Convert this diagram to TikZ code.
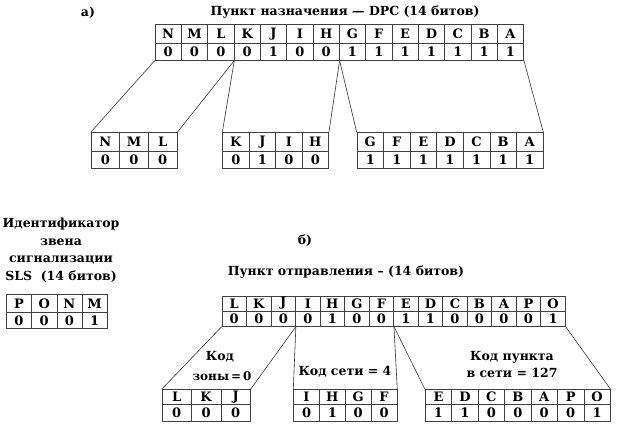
\documentclass[tikz,border=0pt]{standalone}
\usepackage{fontspec}
\setmainfont{DejaVu Serif}
\begin{document}
\begin{tikzpicture}[x=1pt,y=-1pt,
  cell/.style={draw=black!75,line width=0.6pt,inner sep=0pt,anchor=north west,font=\fontsize{13}{13}\selectfont\bfseries},
  conn/.style={draw=black!80,line width=0.6pt},
  lbl/.style={font=\fontsize{12.5}{15}\selectfont\bfseries,inner sep=0pt,align=center}]
\useasboundingbox (0,0) rectangle (620,428);
\newcommand\bittab[7]{%
  \foreach \l/\b [count=\i] in {#7} {
    \node[cell,minimum width=#4pt,minimum height=#5pt] (#1-t\i) at ({#2+(\i-1)*#4},#3) {\l};
    \node[cell,minimum width=#4pt,minimum height=#6pt] (#1-b\i) at ({#2+(\i-1)*#4},#3+#5) {\b};
  }}
% a)
\node[lbl] (la) at (88,13) {а)};
\node[lbl] (ta) at (345,12) {Пункт назначения — DPC (14 битов)};
\bittab{dpc}{154.7}{24.3}{26.33}{18.7}{17}{N/0,M/0,L/0,K/0,J/1,I/0,H/0,G/1,F/1,E/1,D/1,C/1,B/1,A/1}
\bittab{nml}{90.7}{132.3}{28.67}{19}{17}{N/0,M/0,L/0}
\bittab{kjih}{222.3}{132.3}{26.5}{19}{17}{K/0,J/1,I/0,H/0}
\bittab{ga}{356.7}{132.3}{26.57}{19}{17}{G/1,F/1,E/1,D/1,C/1,B/1,A/1}
\draw[conn] (dpc-b1.south west) -- (nml-t1.north west);
\draw[conn] (dpc-b3.south east) -- (nml-t3.north east);
\draw[conn] (dpc-b3.south east) -- (kjih-t1.north west);
\draw[conn] (dpc-b7.south east) -- (kjih-t4.north east);
\draw[conn] (dpc-b7.south east) -- (ga-t1.north west);
\draw[conn] (dpc-b14.south east) -- (ga-t7.north east);
% SLS
\node[lbl,font=\fontsize{12.5}{17.5}\selectfont\bfseries] (sls) at (61,250) {Идентификатор\\звена\\сигнализации\\SLS\ \ (14 битов)};
\bittab{ponm}{6}{294}{25.25}{18}{16}{P/0,O/0,N/0,M/1}
% b)
\node[lbl] (lb) at (305,241) {б)};
\node[lbl] (tb) at (346,272) {Пункт отправления – (14 битов)};
\bittab{opc}{221.7}{295.5}{24.52}{15}{15.5}{L/0,K/0,J/0,I/0,H/1,G/0,F/0,E/1,D/1,C/0,B/0,A/0,P/0,O/1}
\bittab{lkj}{161.7}{389.3}{29.43}{15}{16.5}{L/0,K/0,J/0}
\bittab{ihgf}{293.3}{389.3}{25.85}{15}{16.5}{I/0,H/1,G/0,F/0}
\bittab{eo}{425}{389.3}{26.43}{15}{16.5}{E/1,D/1,C/0,B/0,A/0,P/0,O/1}
\draw[conn] (opc-b1.south west) -- (lkj-t1.north west);
\draw[conn] (opc-b3.south east) -- (lkj-t3.north east);
\draw[conn] (opc-b3.south east) -- (ihgf-t1.north west);
\draw[conn] (opc-b7.south east) -- (ihgf-t4.north east);
\draw[conn] (opc-b7.south east) -- (eo-t1.north west);
\draw[conn] (opc-b14.south east) -- (eo-t7.north east);
\node[lbl] (kz) at (220,357) {Код};
\node[lbl,font=\fontsize{12}{15}\selectfont\bfseries] (kz2) at (222,376) {зоны\,=\,0};
\node[lbl] (ks) at (345,372) {Код сети = 4};
\node[lbl] (kp) at (512,357) {Код пункта};
\node[lbl] (kp2) at (512,373) {в сети = 127};
\end{tikzpicture}
\end{document}
